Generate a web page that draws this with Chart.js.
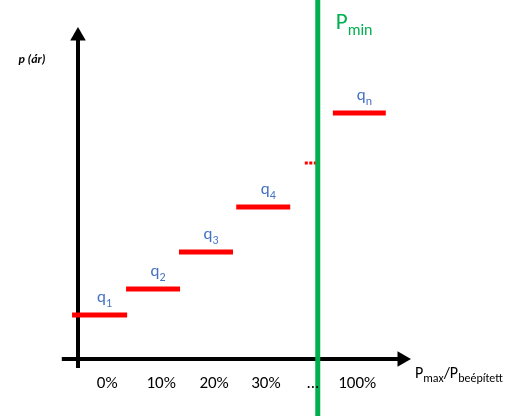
<!DOCTYPE html>
<html>
<head>
<meta charset="utf-8">
<script src="https://cdn.jsdelivr.net/npm/chart.js@4"></script>
<style>
  html, body { margin: 0; padding: 0; background: #fff; }
  canvas { display: block; }
</style>
</head>
<body>
<canvas id="chart" width="517" height="416"></canvas>
<script>
// step data (x in step units, y in price units)
const stepSubs = ['1', '2', '3', '4', 'n'];
const stepStart = [-0.11, 0.89, 1.87, 2.93, 4.72];
const stepEnd = [0.91, 1.89, 2.87, 3.93, 5.70];
const stepPrice = [4.4, 7.0, 10.7, 15.2, 24.6];

// dotted gap between q4 and qn
const gapStart = 4.20;
const gapEnd = 4.42;
const gapPrice = 19.6;

// Pmin vertical line
const pMinX = 4.44;

// x tick labels
const tickLabels = ['0%', '10%', '20%', '30%', '...', '100%'];
const tickPos = [0.54, 1.54, 2.52, 3.48, 4.35, 5.17];

// axes extents
const xAxisFrom = -0.3;
const xAxisTo = 6.0;
const yAxisFrom = -0.9;
const yAxisTo = 32.3;

const xMin = -1.4444, xMax = 8.1296;
const yMin = -5.7, yMax = 35.9;

const RED = '#ff0000';
const GREEN = '#00b050';
const BLUE = '#4472c4';
const FONT = 'Carlito, Lato, "Open Sans", sans-serif';

const datasets = [];

datasets.push({
  data: [{ x: pMinX, y: yMax }, { x: pMinX, y: yMin }],
  borderColor: GREEN,
  borderWidth: 5,
  pointRadius: 0
});

stepStart.forEach((s, i) => {
  datasets.push({
    data: [{ x: s, y: stepPrice[i] }, { x: stepEnd[i], y: stepPrice[i] }],
    borderColor: RED,
    borderWidth: 5,
    borderCapStyle: 'butt',
    pointRadius: 0
  });
});

datasets.push({
  data: [{ x: gapStart, y: gapPrice }, { x: gapEnd, y: gapPrice }],
  borderColor: RED,
  borderWidth: 3,
  borderDash: [3, 1.5],
  borderCapStyle: 'butt',
  pointRadius: 0
});

// axes with triangle arrow heads
datasets.push({
  data: [{ x: xAxisFrom, y: 0 }, { x: xAxisTo, y: 0 }],
  borderColor: '#000',
  backgroundColor: '#000',
  borderWidth: 4,
  borderCapStyle: 'butt',
  pointStyle: 'triangle',
  rotation: 90,
  pointBorderWidth: 0,
  pointRadius: ctx => ctx.dataIndex === 1 ? 9 : 0
});
datasets.push({
  data: [{ x: 0, y: yAxisFrom }, { x: 0, y: yAxisTo }],
  borderColor: '#000',
  backgroundColor: '#000',
  borderWidth: 4,
  borderCapStyle: 'butt',
  pointStyle: 'triangle',
  rotation: 0,
  pointBorderWidth: 0,
  pointRadius: ctx => ctx.dataIndex === 1 ? 9 : 0
});

function drawSub(ctx, main, sub, x, y, size, subSize, align) {
  ctx.font = size + 'px ' + FONT;
  const w1 = ctx.measureText(main).width;
  ctx.font = subSize + 'px ' + FONT;
  const w2 = ctx.measureText(sub).width;
  let left = align === 'left' ? x : x - (w1 + w2) / 2;
  ctx.textAlign = 'left';
  ctx.textBaseline = 'alphabetic';
  ctx.font = size + 'px ' + FONT;
  ctx.fillText(main, left, y);
  ctx.font = subSize + 'px ' + FONT;
  ctx.fillText(sub, left + w1, y + size * 0.28);
  return left + w1 + w2;
}

const labelsPlugin = {
  id: 'labels',
  afterDatasetsDraw(chart) {
    const { ctx, scales: { x, y } } = chart;
    ctx.save();

    // step labels
    ctx.fillStyle = BLUE;
    stepSubs.forEach((s, i) => {
      const cx = x.getPixelForValue((stepStart[i] + stepEnd[i]) / 2) + 5;
      const cy = y.getPixelForValue(stepPrice[i]) - 13;
      drawSub(ctx, 'q', s, cx, cy, 17, 12);
    });

    // Pmin
    ctx.fillStyle = GREEN;
    drawSub(ctx, 'P', 'min', x.getPixelForValue(pMinX) + 18, y.getPixelForValue(33.0), 23, 16, 'left');

    // tick labels
    ctx.fillStyle = '#000';
    ctx.font = '17px ' + FONT;
    ctx.textAlign = 'center';
    ctx.textBaseline = 'alphabetic';
    const base = y.getPixelForValue(0) + 29;
    tickLabels.forEach((t, i) => {
      ctx.fillText(t, x.getPixelForValue(tickPos[i]), base);
    });

    // x axis title
    let left = x.getPixelForValue(xAxisTo) + 13;
    const ty = y.getPixelForValue(0) + 19;
    left = drawSub(ctx, 'P', 'max', left, ty, 16, 12, 'left');
    ctx.font = '16px ' + FONT;
    ctx.fillText('/', left, ty);
    left += ctx.measureText('/').width;
    drawSub(ctx, 'P', 'beépített', left, ty, 16, 12, 'left');

    // y axis title
    ctx.font = 'italic bold 12px ' + FONT;
    ctx.textAlign = 'center';
    ctx.fillText('p (ár)', x.getPixelForValue(0) - 46, y.getPixelForValue(29.6));

    ctx.restore();
  }
};

new Chart(document.getElementById('chart'), {
  type: 'line',
  data: { datasets },
  options: {
    responsive: false,
    animation: false,
    layout: { padding: 0, autoPadding: false },
    plugins: { legend: { display: false }, tooltip: { enabled: false } },
    scales: {
      x: { type: 'linear', display: false, min: xMin, max: xMax },
      y: { type: 'linear', display: false, min: yMin, max: yMax }
    }
  },
  plugins: [labelsPlugin]
});
</script>
</body>
</html>
